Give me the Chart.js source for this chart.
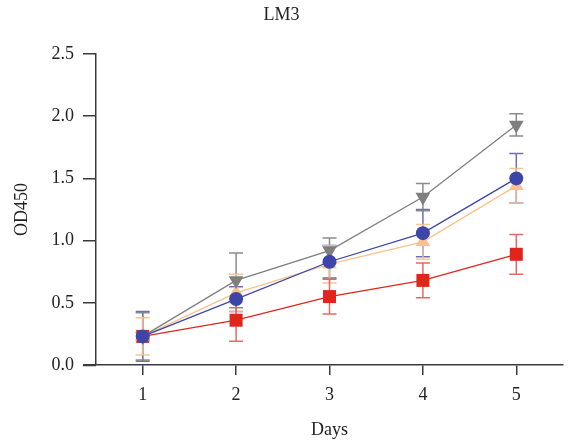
<!DOCTYPE html>
<html>
<head>
<meta charset="utf-8">
<script src="https://cdn.jsdelivr.net/npm/chart.js@4"></script>
<style>
  html, body { margin: 0; padding: 0; background: #fff; }
  #wrap { width: 575px; height: 442px; }
</style>
</head>
<body>
<div id="wrap"><canvas id="chartLM3" width="575" height="442"></canvas></div>
<script>
  // datos (OD450 por día)
  const days = [1, 2, 3, 4, 5];
  const yTicks = [0, 0.5, 1.0, 1.5, 2.0, 2.5];

  const grayVals   = [0.23, 0.68, 0.92, 1.35, 1.93];
  const grayErr    = [0.19, 0.22, 0.10, 0.11, 0.09];
  const blueVals   = [0.23, 0.53, 0.83, 1.06, 1.50];
  const blueErr    = [0.20, 0.10, 0.13, 0.19, 0.20];
  const orangeVals = [0.23, 0.58, 0.81, 0.99, 1.44];
  const orangeErr  = [0.15, 0.15, 0.15, 0.14, 0.14];
  const redVals    = [0.23, 0.36, 0.55, 0.68, 0.89];
  const redErr     = [0.03, 0.17, 0.14, 0.14, 0.16];

  const FONT = "'Liberation Serif', 'DejaVu Serif', serif";
  const AXIS = '#3a3a3a';

  function pts(vals) {
    return days.map((d, i) => ({ x: d, y: vals[i] }));
  }

  function serie(label, vals, err, color, errColor, style, radius, rot, order) {
    return {
      label, data: pts(vals), err, errColor,
      borderColor: color, backgroundColor: color,
      borderWidth: 1.3,
      pointStyle: style, pointRadius: radius, pointRotation: rot || 0,
      pointBorderWidth: 0, pointBackgroundColor: color,
      order
    };
  }

  // barras de error con las escalas del propio chart
  const errorBars = {
    id: 'errorBars',
    beforeDatasetsDraw(chart) {
      const { ctx, scales: { x, y } } = chart;
      ctx.save();
      chart.data.datasets.forEach(ds => {
        ctx.strokeStyle = ds.errColor;
        ctx.lineWidth = 1.5;
        ds.data.forEach((p, i) => {
          const px = x.getPixelForValue(p.x);
          const top = y.getPixelForValue(p.y + ds.err[i]);
          const bot = y.getPixelForValue(p.y - ds.err[i]);
          ctx.beginPath();
          ctx.moveTo(px, top); ctx.lineTo(px, bot);
          ctx.moveTo(px - 7, top); ctx.lineTo(px + 7, top);
          ctx.moveTo(px - 7, bot); ctx.lineTo(px + 7, bot);
          ctx.stroke();
        });
      });
      ctx.restore();
    },
    afterDraw(chart) {
      // el eje x se prolonga un poco a la izquierda del eje y
      const { ctx, chartArea } = chart;
      ctx.save();
      ctx.strokeStyle = AXIS;
      ctx.lineWidth = 1.5;
      ctx.beginPath();
      ctx.moveTo(chartArea.left - 13, chartArea.bottom + 0.5);
      ctx.lineTo(chartArea.left, chartArea.bottom + 0.5);
      ctx.stroke();
      ctx.restore();
    }
  };

  new Chart(document.getElementById('chartLM3'), {
    type: 'line',
    data: {
      datasets: [
        serie('Blue',   blueVals,   blueErr,   '#3d45a8', 'rgba(80,86,178,0.85)',  'circle',   7, 0,   1),
        serie('Gray',   grayVals,   grayErr,   '#7f7f7f', 'rgba(128,128,128,0.9)', 'triangle', 8.5, 180, 2),
        serie('Orange', orangeVals, orangeErr, '#f9c28a', 'rgba(247,190,140,0.9)', 'triangle', 8.5, 0,   3),
        serie('Red',    redVals,    redErr,    '#e0261c', 'rgba(226,80,72,0.85)',  'rect',     9.2, 0,   4)
      ]
    },
    options: {
      responsive: false,
      animation: false,
      layout: { padding: { right: 12 } },
      plugins: {
        legend: { display: false },
        tooltip: { enabled: false },
        title: {
          display: true, text: 'LM3', color: '#222',
          font: { family: FONT, size: 18, weight: 'normal' },
          padding: { top: 4, bottom: 28.4 }
        }
      },
      scales: {
        x: {
          type: 'linear', min: 0.5, max: 5.5,
          afterBuildTicks: s => { s.ticks = days.map(v => ({ value: v })); },
          afterFit: s => { s.height = 77; },
          grid: { drawOnChartArea: false, drawTicks: true, tickLength: 10, tickColor: AXIS, lineWidth: 1.5 },
          border: { display: true, color: AXIS, width: 1.5 },
          ticks: { color: '#222', padding: 9, font: { family: FONT, size: 18 } },
          title: { display: true, text: 'Days', color: '#222', padding: { top: 8, bottom: 1 }, font: { family: FONT, size: 18 } }
        },
        y: {
          min: 0, max: 2.5,
          afterBuildTicks: s => { s.ticks = yTicks.map(v => ({ value: v })); },
          afterFit: s => { s.width = 96; },
          grid: { drawOnChartArea: false, drawTicks: true, tickLength: 13, tickColor: AXIS, lineWidth: 1.5 },
          border: { display: true, color: AXIS, width: 1.5 },
          ticks: {
            color: '#222', padding: 9, font: { family: FONT, size: 18 },
            callback: v => v.toFixed(1)
          },
          title: { display: true, text: 'OD450', color: '#222', padding: { top: 11, bottom: 4 }, font: { family: FONT, size: 18 } }
        }
      }
    },
    plugins: [errorBars]
  });
</script>
</body>
</html>
